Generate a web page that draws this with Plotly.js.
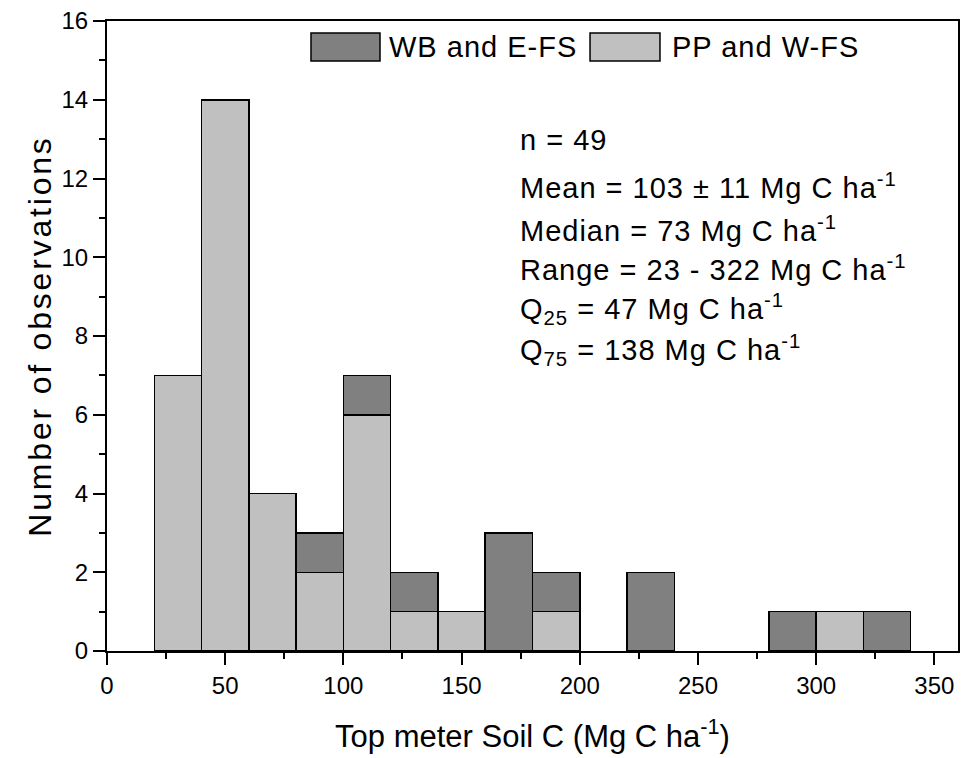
<!DOCTYPE html>
<html>
<head>
<meta charset="utf-8">
<script src="https://cdn.plot.ly/plotly-3.0.1.min.js"></script>
<style>
html,body{margin:0;padding:0;background:#fff;}
#chart{width:961px;height:758px;}
.annotation-text{letter-spacing:1px;}
.ytitle{letter-spacing:2.8px;}
</style>
</head>
<body>
<div id="chart"></div>
<script>
// Bin centres (bin width 20, Mg C ha-1)
var binCenters = [30, 50, 70, 90, 110, 130, 150, 170, 190, 210, 230, 250, 270, 290, 310, 330];
// Counts per bin
var ppWfs = [7, 14, 4, 2, 6, 1, 1, 0, 1, 0, 0, 0, 0, 0, 1, 0];   // PP and W-FS (light, bottom)
var wbEfs = [0, 0, 0, 1, 1, 1, 0, 3, 1, 0, 2, 0, 0, 1, 0, 1];    // WB and E-FS (dark, stacked)
var seriesNames = ['WB and E-FS', 'PP and W-FS'];
var statLines = [
  'n = 49',
  'Mean = 103 \u00B1 11 Mg C ha<sup>-1</sup>',
  'Median = 73 Mg C ha<sup>-1</sup>',
  'Range = 23 - 322 Mg C ha<sup>-1</sup>',
  'Q<sub>25</sub> = 47 Mg C ha<sup>-1</sup>',
  'Q<sub>75</sub> = 138 Mg C ha<sup>-1</sup>'
];
var statY = [0.811, 0.738, 0.670, 0.608, 0.543, 0.478];

var DARK = '#808080', LIGHT = '#c0c0c0';
var FONT = 'Arial, "Liberation Sans", sans-serif';

function nz(a){ return a.map(function(v){ return v === 0 ? null : v; }); }

var traces = [
  {type:'bar', x:binCenters, y:nz(ppWfs), width:20, name:seriesNames[1],
   marker:{color:LIGHT, line:{color:'#000', width:1.5}}, showlegend:false},
  {type:'bar', x:binCenters, y:nz(wbEfs), width:20, name:seriesNames[0],
   marker:{color:DARK, line:{color:'#000', width:1.5}}, showlegend:false}
];

var annotations = statLines.map(function(t, i){
  return {xref:'paper', yref:'paper', x:0.483, y:statY[i], xanchor:'left', yanchor:'middle',
          text:t, showarrow:false, font:{family:FONT, size:29, color:'#000'}};
});
annotations.push({xref:'paper', yref:'paper', x:0.329, y:0.9587, xanchor:'left', yanchor:'middle',
  text:seriesNames[0], showarrow:false, font:{family:FONT, size:29, color:'#000'}});
annotations.push({xref:'paper', yref:'paper', x:0.6616, y:0.9587, xanchor:'left', yanchor:'middle',
  text:seriesNames[1], showarrow:false, font:{family:FONT, size:29, color:'#000'}});

var shapes = [
  {type:'rect', xref:'paper', yref:'paper', x0:0.2397, x1:0.3208, y0:0.9365, y1:0.981,
   fillcolor:DARK, line:{color:'#000', width:1.5}},
  {type:'rect', xref:'paper', yref:'paper', x0:0.5676, x1:0.6498, y0:0.9365, y1:0.981,
   fillcolor:LIGHT, line:{color:'#000', width:1.5}}
];

var layout = {
  width:961, height:758,
  margin:{l:107, r:3, t:21, b:107},
  paper_bgcolor:'#fff', plot_bgcolor:'#fff',
  barmode:'stack', bargap:0,
  font:{family:FONT, size:24, color:'#000'},
  xaxis:{
    range:[0, 360], dtick:50, tick0:0,
    ticks:'outside', ticklen:12, tickwidth:2, tickcolor:'#000',
    minor:{dtick:25, tick0:0, ticks:'outside', ticklen:6, tickwidth:2, tickcolor:'#000', showgrid:false},
    showline:true, linewidth:2, linecolor:'#000', mirror:true,
    showgrid:false, zeroline:false,
    tickfont:{family:FONT, size:24},
    title:{text:'Top meter Soil C (Mg C ha<sup>-1</sup>)', font:{family:FONT, size:31}, standoff:28}
  },
  yaxis:{
    range:[0, 16], dtick:2, tick0:0,
    ticks:'outside', ticklen:12, tickwidth:2, tickcolor:'#000',
    minor:{dtick:1, tick0:0, ticks:'outside', ticklen:6, tickwidth:2, tickcolor:'#000', showgrid:false},
    showline:true, linewidth:2, linecolor:'#000', mirror:true,
    showgrid:false, zeroline:false,
    tickfont:{family:FONT, size:24},
    title:{text:'Number of observations', font:{family:FONT, size:32}, standoff:0}
  },
  annotations:annotations,
  shapes:shapes
};

Plotly.newPlot('chart', traces, layout, {displayModeBar:false, staticPlot:true});
</script>
</body>
</html>
